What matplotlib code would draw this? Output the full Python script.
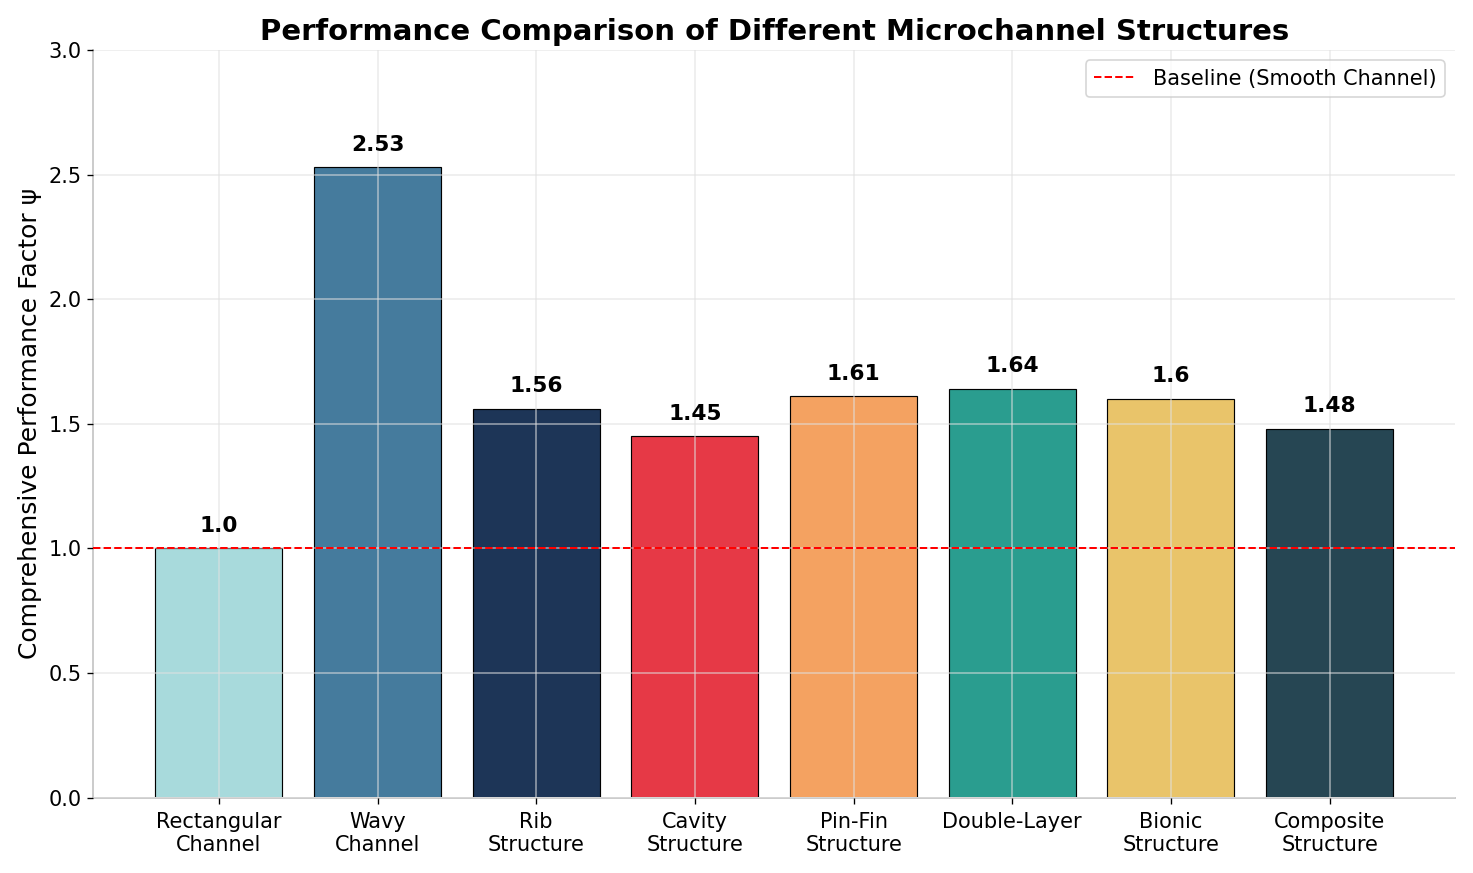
import matplotlib
matplotlib.use("Agg")
import matplotlib.pyplot as plt

categories = ["Rectangular\nChannel", "Wavy\nChannel", "Rib\nStructure", "Cavity\nStructure",
              "Pin-Fin\nStructure", "Double-Layer", "Bionic\nStructure", "Composite\nStructure"]
values = [1.0, 2.53, 1.56, 1.45, 1.61, 1.64, 1.6, 1.48]
colors = ["#A8DADC", "#457B9D", "#1D3557", "#E63946", "#F4A261", "#2A9D8F", "#E9C46A", "#264653"]
baseline = 1.0

DPI = 120
fig, ax = plt.subplots(figsize=(1473 / DPI, 873 / DPI), dpi=DPI)
x = range(len(categories))
ax.bar(x, values, color=colors, edgecolor="black", linewidth=0.7, width=0.8)
for xi, v in zip(x, values):
    ax.text(xi, v + 0.05, str(v), ha="center", va="bottom", fontsize=13, fontweight="bold")

ax.axhline(baseline, color="red", linestyle="--", linewidth=1.2, label="Baseline (Smooth Channel)", zorder=4)
ax.set_xticks(list(x))
ax.set_xticklabels(categories, fontsize=12.5)
ax.tick_params(axis="x", pad=5)
ax.tick_params(axis="y", labelsize=12.5)
ax.set_ylim(0, 3.0)
ax.set_ylabel("Comprehensive Performance Factor ψ", fontsize=15)
ax.set_title("Performance Comparison of Different Microchannel Structures", fontsize=17.5, fontweight="bold")
ax.grid(True, color="#e0e0e0", alpha=0.55, linewidth=1.1)
ax.set_axisbelow(False)
for s in ["top", "right"]:
    ax.spines[s].set_visible(False)
for s in ["left", "bottom"]:
    ax.spines[s].set_color("#cccccc")
    ax.spines[s].set_linewidth(1.2)
ax.legend(loc="upper right", fontsize=12.5)
fig.tight_layout()
fig.savefig("out.png", dpi=DPI)
